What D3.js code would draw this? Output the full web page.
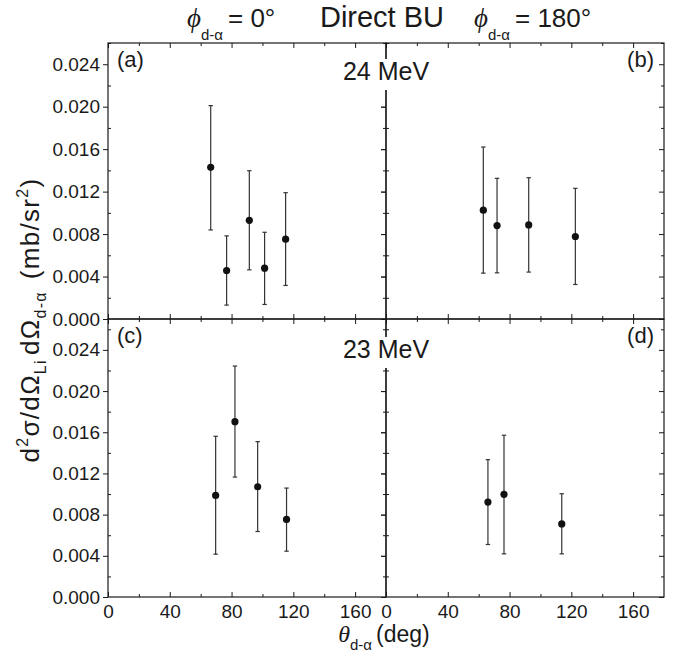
<!DOCTYPE html>
<html><head><meta charset="utf-8">
<script src="https://cdn.jsdelivr.net/npm/d3@7"></script>
<style>body{margin:0;background:#fff} svg{display:block}</style>
</head><body>
<svg id="chart" width="683" height="652"></svg>
<script>
// ---------- data ----------
const xTickValues = [0, 40, 80, 120, 160];
const yTickValues = [0, 0.004, 0.008, 0.012, 0.016, 0.020, 0.024];
const energyLabels = ["24 MeV", "23 MeV"];
const panelLabels = ["(a)", "(b)", "(c)", "(d)"];

// (a) 24 MeV, phi = 0
const thetaA = [66.5, 76.8, 91.5, 101.4, 115.0];
const valA   = [0.01429, 0.00457, 0.00930, 0.00479, 0.00752];
const hiA    = [0.02010, 0.00783, 0.01397, 0.00817, 0.01190];
const loA    = [0.00839, 0.00131, 0.00463, 0.00137, 0.00316];
// (b) 24 MeV, phi = 180
const thetaB = [63.0, 71.9, 92.4, 122.6];
const valB   = [0.01025, 0.00880, 0.00886, 0.00777];
const hiB    = [0.01620, 0.01325, 0.01331, 0.01231];
const loB    = [0.00432, 0.00435, 0.00442, 0.00325];
// (c) 23 MeV, phi = 0
const thetaC = [69.7, 82.2, 96.9, 115.6];
const valC   = [0.00987, 0.01703, 0.01071, 0.00753];
const hiC    = [0.01561, 0.02243, 0.01509, 0.01058];
const loC    = [0.00416, 0.01165, 0.00636, 0.00445];
// (d) 23 MeV, phi = 180
const thetaD = [66.0, 76.4, 113.8];
const valD   = [0.00922, 0.00997, 0.00710];
const hiD    = [0.01334, 0.01571, 0.01003];
const loD    = [0.00510, 0.00419, 0.00419];

const xDomain = [0, 180];
const yDomainTop = [0, 0.026];
const yDomainBottom = [0, 0.027];

// ---------- layout ----------
const L = 108, M = 386, R = 664, T = 43, MY = 319, B = 597;
const FONT = "'Liberation Sans', Arial, Helvetica, sans-serif";
const SERIF = "'Liberation Serif', 'DejaVu Serif', serif";
const INK = "#1a1a1a";

const svg = d3.select("#chart");

const panels = [
  {lab: panelLabels[0], th: thetaA, v: valA, hi: hiA, lo: loA, col: 0, row: 0},
  {lab: panelLabels[1], th: thetaB, v: valB, hi: hiB, lo: loB, col: 1, row: 0},
  {lab: panelLabels[2], th: thetaC, v: valC, hi: hiC, lo: loC, col: 0, row: 1},
  {lab: panelLabels[3], th: thetaD, v: valD, hi: hiD, lo: loD, col: 1, row: 1}
];

const xMinor = d3.range(20, 180, 40);
const yMinor = d3.range(0.002, 0.027, 0.004);

function styleAxis(g) {
  g.select(".domain").remove();
  g.selectAll("line").attr("stroke", INK).attr("stroke-width", 1);
  g.selectAll("text").attr("font-family", FONT).attr("font-size", 19).attr("fill", INK);
}

panels.forEach(p => {
  const x0 = p.col === 0 ? L : M;
  const x1 = p.col === 0 ? M : R;
  const y0 = p.row === 0 ? T : MY;
  const y1 = p.row === 0 ? MY : B;
  p.x = d3.scaleLinear().domain(xDomain).range([x0, x1]);
  p.y = d3.scaleLinear().domain(p.row === 0 ? yDomainTop : yDomainBottom).range([y1, y0]);
  p.box = [x0, x1, y0, y1];
});

const gFrame = svg.append("g");
panels.forEach(p => {
  const [x0, x1, y0, y1] = p.box;
  gFrame.append("rect").attr("x", x0).attr("y", y0).attr("width", x1 - x0).attr("height", y1 - y0)
    .attr("fill", "none").attr("stroke", INK).attr("stroke-width", 1.2);

  const gb = gFrame.append("g").attr("transform", `translate(0,${y1})`);
  gb.call(d3.axisBottom(p.x).tickValues(xTickValues).tickSizeInner(-5).tickSizeOuter(0)
      .tickPadding(8).tickFormat(p.row === 1 ? d3.format("d") : ""));
  gb.call(styleAxis);
  const gbm = gFrame.append("g").attr("transform", `translate(0,${y1})`);
  gbm.call(d3.axisBottom(p.x).tickValues(xMinor).tickSizeInner(-3).tickSizeOuter(0).tickFormat(""));
  gbm.call(styleAxis);
  const gt = gFrame.append("g").attr("transform", `translate(0,${y0})`);
  gt.call(d3.axisTop(p.x).tickValues(xTickValues).tickSizeInner(-5).tickSizeOuter(0).tickFormat(""));
  gt.call(styleAxis);
  const gtm = gFrame.append("g").attr("transform", `translate(0,${y0})`);
  gtm.call(d3.axisTop(p.x).tickValues(xMinor).tickSizeInner(-3).tickSizeOuter(0).tickFormat(""));
  gtm.call(styleAxis);

  const gl = gFrame.append("g").attr("transform", `translate(${x0},0)`);
  gl.call(d3.axisLeft(p.y).tickValues(yTickValues).tickSizeInner(5).tickSizeOuter(0)
      .tickPadding(3).tickFormat(p.col === 0 ? d3.format(".3f") : ""));
  gl.call(styleAxis);
  const glm = gFrame.append("g").attr("transform", `translate(${x0},0)`);
  glm.call(d3.axisLeft(p.y).tickValues(yMinor).tickSizeInner(-3).tickSizeOuter(0).tickFormat(""));
  glm.call(styleAxis);
  const gr = gFrame.append("g").attr("transform", `translate(${x1},0)`);
  gr.call(d3.axisRight(p.y).tickValues(yTickValues).tickSizeInner(-5).tickSizeOuter(0).tickFormat(""));
  gr.call(styleAxis);
  const grm = gFrame.append("g").attr("transform", `translate(${x1},0)`);
  grm.call(d3.axisRight(p.y).tickValues(yMinor).tickSizeInner(-3).tickSizeOuter(0).tickFormat(""));
  grm.call(styleAxis);
});

// energy labels with white background (covers the middle divider)
[[energyLabels[0], 80], [energyLabels[1], 358]].forEach(([t, yb]) => {
  const bg = svg.append("rect").attr("fill", "#fff");
  const tx = svg.append("text").attr("x", M).attr("y", yb).attr("text-anchor", "middle")
    .attr("font-family", FONT).attr("font-size", 25).attr("fill", INK).text(t);
  const bb = tx.node().getBBox();
  bg.attr("x", bb.x - 2).attr("y", bb.y + 2).attr("width", bb.width + 4).attr("height", (yb + 10) - (bb.y + 2));
});

// panel letters
panels.forEach(p => {
  const [x0, x1, y0] = p.box;
  svg.append("text")
    .attr("x", p.col === 0 ? x0 + 9 : x1 - 10)
    .attr("y", y0 + 24)
    .attr("text-anchor", p.col === 0 ? "start" : "end")
    .attr("font-family", FONT).attr("font-size", 22).attr("fill", INK)
    .text(p.lab);
});

// data: error bars + points
panels.forEach(p => {
  const g = svg.append("g");
  const idx = d3.range(p.th.length);
  g.selectAll("line.bar").data(idx).join("line")
    .attr("x1", i => p.x(p.th[i])).attr("x2", i => p.x(p.th[i]))
    .attr("y1", i => p.y(p.lo[i])).attr("y2", i => p.y(p.hi[i]))
    .attr("stroke", "#333").attr("stroke-width", 1.2);
  ["hi", "lo"].forEach(k => {
    g.selectAll("line.cap" + k).data(idx).join("line")
      .attr("x1", i => p.x(p.th[i]) - 2.2).attr("x2", i => p.x(p.th[i]) + 2.2)
      .attr("y1", i => p.y(p[k][i])).attr("y2", i => p.y(p[k][i]))
      .attr("stroke", "#333").attr("stroke-width", 1.2);
  });
  g.selectAll("circle").data(idx).join("circle")
    .attr("cx", i => p.x(p.th[i])).attr("cy", i => p.y(p.v[i])).attr("r", 3.6)
    .attr("fill", "#111");
});

// title & phi labels
svg.append("text").attr("x", 382).attr("y", 27).attr("text-anchor", "middle")
  .attr("font-family", FONT).attr("font-size", 29).attr("fill", INK).text("Direct BU");

function phiLabel(x, deg) {
  const t = svg.append("text").attr("x", x).attr("y", 27).attr("font-family", FONT).attr("fill", INK);
  t.append("tspan").attr("font-family", SERIF).attr("font-style", "italic").attr("font-size", 27).text("ϕ");
  t.append("tspan").attr("font-size", 15).attr("dy", 13).text("d-α");
  t.append("tspan").attr("font-size", 26).attr("dy", -13).attr("dx", 5).text("= " + deg + "°");
}
phiLabel(187, 0);
phiLabel(474, 180);

// x axis title
const xt = svg.append("text").attr("x", 384).attr("y", 642).attr("text-anchor", "middle")
  .attr("font-family", FONT).attr("fill", INK);
xt.append("tspan").attr("font-family", SERIF).attr("font-style", "italic").attr("font-size", 24).text("θ");
xt.append("tspan").attr("font-size", 15).attr("dy", 8).text("d-α");
xt.append("tspan").attr("font-size", 23).attr("dy", -8).attr("dx", 4).text("(deg)");

// y axis title
const yt = svg.append("text").attr("transform", `translate(39,${(T + B) / 2}) rotate(-90)`)
  .attr("text-anchor", "middle").attr("font-family", FONT).attr("fill", INK).attr("font-size", 26)
  .attr("letter-spacing", 1.3);
yt.append("tspan").text("d");
yt.append("tspan").attr("font-size", 16).attr("dy", -11).text("2");
yt.append("tspan").attr("dy", 11).text("σ/dΩ");
yt.append("tspan").attr("font-size", 16).attr("dy", 7).text("Li");
yt.append("tspan").attr("dy", -7).attr("dx", 4).text("dΩ");
yt.append("tspan").attr("font-size", 16).attr("dy", 7).text("d-α");
yt.append("tspan").attr("dy", -7).attr("dx", 12).text("(mb/sr");
yt.append("tspan").attr("font-size", 16).attr("dy", -11).text("2");
yt.append("tspan").attr("dy", 11).text(")");
</script>
</body></html>
